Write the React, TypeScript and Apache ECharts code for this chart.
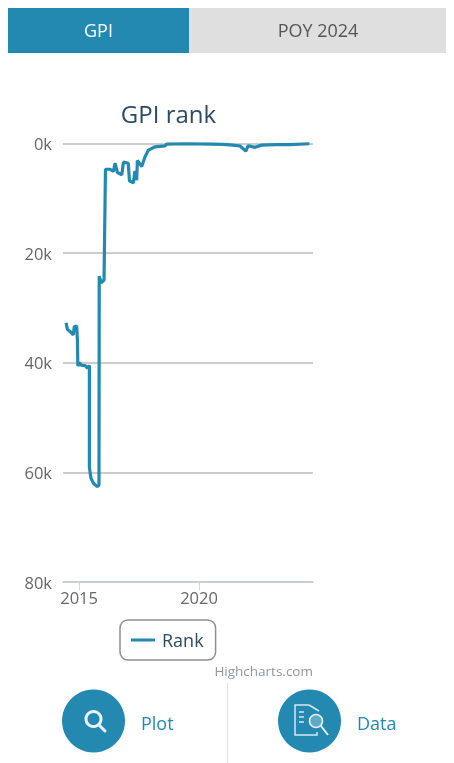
import React, { useEffect, useRef } from "react";
import * as echarts from "echarts";

const years = [2014.46,2014.51,2014.65,2014.76,2014.8,2014.9,2014.93,2014.95,2015.01,2015.11,2015.25,2015.35,2015.43,2015.43,2015.49,2015.6,2015.76,2015.83,2015.84,2015.92,2016.04,2016.1,2016.29,2016.43,2016.5,2016.6,2016.78,2016.85,2017.05,2017.1,2017.26,2017.33,2017.4,2017.43,2017.61,2017.75,2017.89,2018.17,2018.58,2018.65,2019.5,2020.5,2021,2021.4,2021.71,2021.95,2022.05,2022.33,2022.61,2023.2,2023.8,2024.6];
const ranks = [32700,33900,34400,34900,33400,33300,35800,40600,40000,40500,40500,41000,40500,59000,61000,62000,62600,62300,24200,25400,24900,4700,4700,5100,3600,5300,5700,3400,3600,6800,7200,5000,6700,3100,4200,2400,1200,600,450,100,50,100,150,300,450,1400,400,700,300,200,200,50];
const xTicks = [2015, 2020];
const yTicks = [0, 20000, 40000, 60000, 80000];
const BLUE = "#2389b0";
const FONT = "'Open Sans', sans-serif";

export default function App() {
  const ref = useRef<HTMLDivElement>(null);
  useEffect(() => {
    const chart = echarts.init(ref.current!, undefined, { renderer: "svg" });
    chart.setOption({
      animation: false,
      title: {
        text: "GPI rank",
        left: 163.5,
        top: 96,
        textAlign: "center",
        textStyle: { fontFamily: FONT, fontSize: 24, fontWeight: "normal", color: "#2b4a63" },
      },
      grid: { left: 63, right: 141, top: 143.5, bottom: 181 },
      xAxis: {
        type: "value",
        position: "bottom",
        min: 2014.33,
        max: 2024.75,
        splitLine: { show: false },
        axisLine: { onZero: false, lineStyle: { color: "#c0cfe0", width: 1.5 } },
        axisTick: { length: 8, lineStyle: { color: "#ccd6eb" }, customValues: xTicks },
        axisLabel: {
          customValues: xTicks,
          formatter: (v: number) => String(v),
          margin: 7,
          fontFamily: FONT,
          fontSize: 16.5,
          color: "#666666",
        },
      },
      yAxis: {
        type: "value",
        inverse: true,
        min: 0,
        max: 80000,
        interval: 20000,
        axisLine: { show: false },
        axisTick: { show: false },
        splitLine: { lineStyle: { color: "#bbbbbb", width: 1.5 } },
        axisLabel: {
          customValues: yTicks,
          formatter: (v: number) => `${v / 1000}k`,
          margin: 11,
          fontFamily: FONT,
          fontSize: 16.5,
          color: "#666666",
        },
      },
      legend: {
        left: 120,
        top: 620,
        padding: [11, 12, 11, 11],
        backgroundColor: "#fff",
        borderColor: "#8f8f8f",
        borderWidth: 1.5,
        borderRadius: 8,
        itemWidth: 24,
        itemHeight: 3,
        itemGap: 10,
        icon: "rect",
        data: ["Rank"],
        textStyle: { fontFamily: FONT, fontSize: 18, color: "#2b4a63", padding: [0, 0, 0, 2] },
      },
      series: [
        {
          name: "Rank",
          type: "line",
          data: years.map((y, i) => [y, ranks[i]]),
          showSymbol: false,
          lineStyle: { color: BLUE, width: 3.2 },
          itemStyle: { color: BLUE },
        },
      ],
      graphic: [
        { type: "rect", shape: { x: 8, y: 8, width: 181, height: 45 }, style: { fill: BLUE } },
        { type: "rect", shape: { x: 189, y: 8, width: 257, height: 45 }, style: { fill: "#dfdfdf" } },
        { type: "text", x: 98.5, y: 30, style: { text: "GPI", fill: "#fff", font: `18px ${FONT}`, textAlign: "center", textVerticalAlign: "middle" } },
        { type: "text", x: 318, y: 30, style: { text: "POY 2024", fill: "#555555", font: `18px ${FONT}`, textAlign: "center", textVerticalAlign: "middle" } },
        { type: "text", x: 313, y: 671, style: { text: "Highcharts.com", fill: "#8c97a3", font: `13.5px ${FONT}`, textAlign: "right", textVerticalAlign: "middle" } },
        { type: "line", shape: { x1: 227.5, y1: 683, x2: 227.5, y2: 763 }, style: { stroke: "#dde1e6", lineWidth: 1 } },
        { type: "circle", shape: { cx: 93.5, cy: 721, r: 31.5 }, style: { fill: BLUE } },
        { type: "circle", shape: { cx: 93.5, cy: 719, r: 7.5 }, style: { fill: "none", stroke: "#e8f3f7", lineWidth: 3 } },
        { type: "line", shape: { x1: 99, y1: 725, x2: 105, y2: 731 }, style: { stroke: "#e8f3f7", lineWidth: 3, lineCap: "round" } },
        { type: "text", x: 141, y: 723, style: { text: "Plot", fill: BLUE, font: `18px ${FONT}`, textVerticalAlign: "middle" } },
        { type: "circle", shape: { cx: 309.5, cy: 721, r: 31.5 }, style: { fill: BLUE } },
        { type: "polyline", shape: { points: [[309, 705], [295, 705], [295, 735], [317, 735], [317, 732]] }, style: { fill: "none", stroke: "#d4e8f0", lineWidth: 1.5 } },
        { type: "line", shape: { x1: 309, y1: 705, x2: 319, y2: 711 }, style: { stroke: "#d4e8f0", lineWidth: 1.5 } },
        { type: "rect", shape: { x: 299, y: 711, width: 5, height: 2 }, style: { fill: "#a9d0df" } },
        { type: "rect", shape: { x: 299, y: 716, width: 5, height: 2 }, style: { fill: "#a9d0df" } },
        { type: "rect", shape: { x: 299, y: 721, width: 5, height: 2 }, style: { fill: "#a9d0df" } },
        { type: "circle", shape: { cx: 316, cy: 721, r: 6.5 }, style: { fill: "#5ea9c6", stroke: "#e8f3f7", lineWidth: 1.5 } },
        { type: "line", shape: { x1: 321, y1: 726, x2: 328, y2: 735 }, style: { stroke: "#e8f3f7", lineWidth: 2 } },
        { type: "text", x: 357, y: 723, style: { text: "Data", fill: BLUE, font: `18px ${FONT}`, textVerticalAlign: "middle" } },
      ],
    });
    return () => chart.dispose();
  }, []);
  return <div ref={ref} style={{ position: "fixed", left: 0, top: 0, width: 454, height: 763 }} />;
}
